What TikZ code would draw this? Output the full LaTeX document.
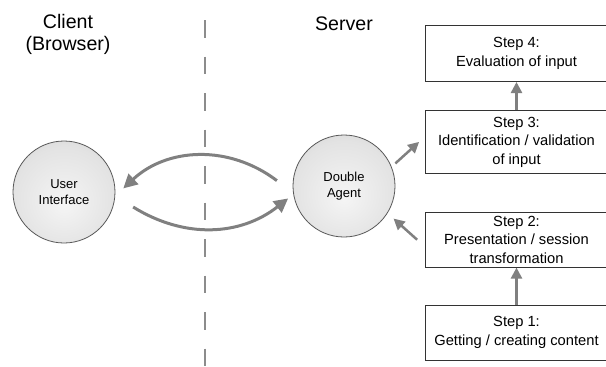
\documentclass[tikz,border=0pt]{standalone}
\usepackage{fontspec}
\setmainfont{Liberation Sans}
\usepackage{xcolor}
\usetikzlibrary{arrows.meta, positioning, shapes.geometric}

\pgfdeclareradialshading{orb}{\pgfpoint{0bp}{-6bp}}{color(0bp)=(white!96!black); color(25bp)=(white!89!black); color(44bp)=(white!78!black); color(50bp)=(white!74!black)}

\begin{document}
\begin{tikzpicture}[
        x=1pt, y=-1pt,
        side/.style={font=\fontsize{19.6}{22}\selectfont, align=center, inner sep=0pt},
        agent/.style={circle, minimum size=102pt, inner sep=0pt, draw=black!65, line width=0.8pt, shading=orb, align=center, font=\fontsize{13}{16}\selectfont},
        stepbox/.style={rectangle, draw=black!80, line width=0.8pt, minimum width=182pt, minimum height=55pt, inner sep=0pt, align=center, font=\fontsize{14.7}{18.5}\selectfont},
        flow/.style={-{Triangle[length=14pt, width=14pt]}, line width=3pt, draw=black!50},
        link/.style={-{Triangle[length=11pt, width=11pt]}, line width=2.5pt, draw=black!50},
        divider/.style={draw=black!45, line width=2pt, dash pattern=on 17.5pt off 19pt},
    ]
        \useasboundingbox (0,0) rectangle (606,367);

        % Sides
        \node[side] (client) at (68,34) {Client\\(Browser)};
        \node[side, anchor=base] (server) at (344,30) {Server};
        \coordinate (divtop) at (205,20);
        \coordinate (divbot) at (205,367);
        \draw[divider] (divtop) -- (divbot);

        % Agents
        \node[agent] (ui) at (64,192) {User\\Interface};
        \node[agent] (da) at (344,186) {Double\\Agent};

        % Server steps
        \node[stepbox] (s1) at (516.5,332.5) {Step 1:\\Getting / creating content};
        \node[stepbox, above=37pt of s1] (s2) {Step 2:\\Presentation / session\\transformation};
        \node[stepbox, minimum height=63pt, above=38pt of s2] (s3) {Step 3:\\Identification / validation\\of input};
        \node[stepbox, minimum height=56pt, above=28pt of s3] (s4) {Step 4:\\Evaluation of input};

        % Arrows
        \draw[flow] ([xshift=-16pt]da.174) to[bend right=40] ([xshift=8pt]ui.4);
        \draw[flow] ([xshift=20pt]ui.-17) to[bend right=35] ([xshift=-6pt]da.194);
        \draw[link, shorten <=5pt] (da.22) -- ([xshift=-6pt]s3.west);
        \draw[link, shorten >=8pt] ([xshift=-8pt]s2.west) -- (da.-32);
        \draw[link] (s1.north) -- (s2.south);
        \draw[link] (s3.north) -- (s4.south);
    \end{tikzpicture}
\end{document}
